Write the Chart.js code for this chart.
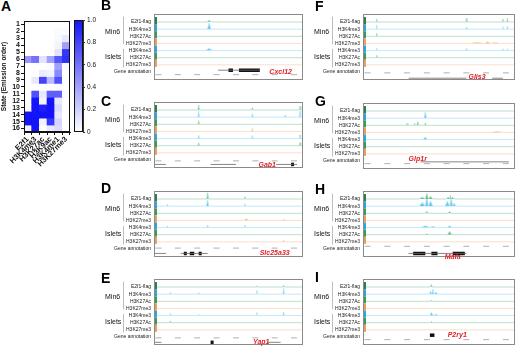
<!DOCTYPE html>
<html lang="en">
<head>
<meta charset="UTF-8">
<title>Chromatin states and E2f1 tracks</title>
<script src="https://cdn.jsdelivr.net/npm/chart.js@4.4.1/dist/chart.umd.min.js"></script>
<style>
  body { margin: 0; width: 520px; height: 351px; background: #fff; position: relative; overflow: hidden;
         font-family: "Liberation Sans", Arial, sans-serif; }
  canvas { position: absolute; }
  .letter { position: absolute; font-weight: bold; font-size: 14px; line-height: 14px; color: #000; }
</style>
</head>
<body>
<div class="letter" style="left:1px;top:-1px">A</div>
<canvas id="heat" width="72" height="175" style="left:0;top:0"></canvas>
<canvas id="cbar" width="30" height="175" style="left:72px;top:0"></canvas>

<script>
// ---- panel A data ----
var marks = ['E2f1', 'H3K4me3', 'H3K27ac', 'H3K9ac', 'H3K4me1', 'H3K27me3'];
var states = ['1','2','3','4','5','6','7','8','9','10','11','12','13','14','15','16'];
var emission = [
  [0, 0, 0, 0, 0, 0],
  [0, 0, 0, 0, 0.02, 0.02],
  [0, 0, 0, 0, 0.03, 0.1],
  [0, 0, 0, 0, 0.05, 0.4],
  [0, 0, 0, 0, 0.12, 0.85],
  [0.45, 0.6, 0.12, 0.4, 0.72, 0.88],
  [0, 0, 0, 0.02, 0.4, 0.02],
  [0, 0, 0.08, 0.05, 0.5, 0],
  [0, 0.1, 0.8, 0.3, 0.75, 0],
  [0, 0, 0, 0, 0.02, 0],
  [0, 0.75, 0.1, 0.68, 0.68, 0.02],
  [0, 1, 0.05, 1, 0.1, 0],
  [0, 1, 0.95, 1, 0.15, 0],
  [1, 1, 1, 1, 0.1, 0],
  [1, 1, 0.05, 0.85, 0.18, 0],
  [0.05, 1, 0, 0.1, 0.15, 0]
];
var scaleTicks = [0, 0.2, 0.4, 0.6, 0.8, 1];
var scaleLabels = ['0', '0.2', '0.4', '0.6', '0.8', '1.0'];

// ---- browser tracks ----
var trackLabels = ['E2f1-flag', 'H3K4me3', 'H3K27Ac', 'H3K27me3', 'H3K4me3', 'H3K27Ac', 'H3K27me3'];
var annotationLabel = 'Gene annotation';
var cellLines = ['Min6', 'Islets'];
var rulerMarks = [3, 16, 29, 42, 55, 68, 81, 94];

// peaks per track: [position %, height, half width %]
var cxcl12Peaks = [[[37, 0.25, 1.5]], [[37, 1.0, 1.2]], [], [], [[37, 0.35, 2.5]], [], []];
var cxcl12Exons = [[50, 53], [57, 71]];
var cxcl12Introns = [[43, 71]];

var gab1Peaks = [
  [[30, 0.8, 0.5], [66, 0.4, 0.5], [98, 0.6, 0.5]],
  [[30, 1.0, 0.5], [66, 0.6, 0.5], [88, 0.3, 0.5], [98, 1.0, 0.5]],
  [[30, 0.6, 0.5]],
  [[66, 0.5, 0.6]],
  [[30, 0.5, 0.6], [66, 0.5, 0.5], [98, 0.6, 0.5]],
  [[30, 0.5, 0.5], [98, 0.5, 0.5]],
  []
];
var gab1Exons = [[92, 94]];
var gab1Introns = [[0, 8], [38, 55], [82, 96]];

var slc25a33Peaks = [
  [[36, 1.0, 0.6], [61, 0.4, 0.5]],
  [[9, 0.3, 0.5], [36, 1.0, 0.8], [61, 0.4, 0.5]],
  [],
  [[62, 0.3, 1.5], [87, 0.2, 1]],
  [[9, 0.3, 0.5], [36, 0.4, 0.6], [61, 0.4, 0.5]],
  [],
  [[87, 0.3, 0.5]]
];
var slc25a33Exons = [[20, 22], [24, 27], [30, 32]];
var slc25a33Introns = [[0, 8], [18, 36]];

var yap1Peaks = [
  [[69, 0.2, 0.5], [87, 0.3, 0.5]],
  [[11, 0.3, 0.5], [30, 0.25, 0.5], [69, 0.6, 0.5], [87, 1.0, 0.5]],
  [],
  [],
  [[11, 0.35, 0.5], [30, 0.2, 0.5], [69, 0.5, 0.5], [87, 0.6, 0.5]],
  [[11, 0.3, 0.5]],
  []
];
var yap1Exons = [[38, 40]];
var yap1Introns = [[0, 5], [76, 85]];

var glis3Peaks = [
  [[9, 0.5, 0.4], [68, 0.6, 0.4], [92, 0.5, 0.4], [95, 0.6, 0.4]],
  [[9, 0.7, 0.4], [68, 0.3, 0.4], [92, 0.4, 0.4], [95, 0.5, 0.4]],
  [[9, 0.5, 0.4]],
  [[75, 0.15, 5], [82, 0.25, 2], [87, 0.15, 3]],
  [[9, 0.4, 0.4], [68, 0.3, 0.4], [92, 0.3, 0.4], [95, 0.3, 0.4]],
  [[9, 0.4, 0.4]],
  []
];
var glis3Exons = [];
var glis3Introns = [[30, 68], [85, 92]];

var glp1rPeaks = [
  [],
  [[41, 1.0, 0.8]],
  [[29, 0.3, 0.5], [34, 0.3, 0.5], [36, 0.6, 0.6], [41, 0.4, 0.5]],
  [[88, 0.15, 4]],
  [[41, 0.4, 1.5]],
  [],
  []
];
var glp1rExons = [];
var glp1rIntrons = [[38, 96]];

var mafaPeaks = [
  [[39, 0.3, 2], [42, 0.9, 1], [44.5, 0.4, 1.5], [56, 0.3, 1], [57.5, 0.6, 0.5], [59, 0.3, 1]],
  [[39, 0.6, 2], [42, 1.6, 1], [44.5, 0.8, 1.5], [55.5, 0.8, 1.5], [58, 1.3, 1], [60, 0.5, 1]],
  [[42, 0.3, 1], [57, 0.3, 1]],
  [],
  [[41, 0.3, 3], [46, 0.2, 2], [57, 0.3, 1.5]],
  [[42, 0.15, 1], [57, 0.5, 1.5]],
  []
];
var mafaExons = [[33, 41], [45, 49], [59, 67]];
var mafaIntrons = [[30, 68]];

var p2ry1Peaks = [
  [[45, 0.4, 0.6]],
  [[44.5, 0.5, 0.8], [46, 0.8, 0.7], [48, 0.3, 1.3]],
  [[45, 0.2, 0.5]],
  [],
  [[45, 0.5, 1.2], [48, 0.2, 1.8]],
  [[45, 0.2, 0.6]],
  []
];
var p2ry1Exons = [[44, 47]];
var p2ry1Introns = [];

// layout of the eight browser panels
var panelLayout = [
  {letter: 'B', gene: 'Cxcl12',   peaks: cxcl12Peaks,   exons: cxcl12Exons,   introns: cxcl12Introns,   col: 0, top: 10,  lt: -2,  nameX: 85, nameY: 65, model: 63, ruler: 68},
  {letter: 'C', gene: 'Gab1',     peaks: gab1Peaks,     exons: gab1Exons,     introns: gab1Introns,     col: 0, top: 98,  lt: 94,  nameX: 76, nameY: 71, model: 70, ruler: 66},
  {letter: 'D', gene: 'Slc25a33', peaks: slc25a33Peaks, exons: slc25a33Exons, introns: slc25a33Introns, col: 0, top: 187, lt: 181, nameX: 81, nameY: 70, model: 70, ruler: 64},
  {letter: 'E', gene: 'Yap1',     peaks: yap1Peaks,     exons: yap1Exons,     introns: yap1Introns,     col: 0, top: 275, lt: 271, nameX: 72, nameY: 71, model: 71, ruler: 66},
  {letter: 'F', gene: 'Glis3',    peaks: glis3Peaks,    exons: glis3Exons,    introns: glis3Introns,    col: 1, top: 10,  lt: -1,  nameX: 75, nameY: 71, model: 72, ruler: 66},
  {letter: 'G', gene: 'Glp1r',    peaks: glp1rPeaks,    exons: glp1rExons,    introns: glp1rIntrons,    col: 1, top: 99,  lt: 94,  nameX: 36, nameY: 63, model: 66, ruler: 68},
  {letter: 'H', gene: 'Mafa',     peaks: mafaPeaks,     exons: mafaExons,     introns: mafaIntrons,     col: 1, top: 187, lt: 182, nameX: 59, nameY: 74, model: 70, ruler: 62},
  {letter: 'I', gene: 'P2ry1',    peaks: p2ry1Peaks,    exons: p2ry1Exons,    introns: p2ry1Introns,    col: 1, top: 275, lt: 270, nameX: 62, nameY: 63, model: 63, ruler: 68}
];

Chart.defaults.font.family = '"Liberation Sans", Arial, sans-serif';
Chart.defaults.animation = false;
Chart.defaults.color = '#111';

var BOX_H = 74;
var trackOffsets = [9, 17, 25, 33, 41, 49, 57];
var annotOffset = 65;
var peakScale = 7;
var lineCols = ['#a9d9bc', '#b3e4f7', '#a9d9bc', '#f8d8bb', '#b3e4f7', '#a9d9bc', '#f8d8bb'];
var fillCols = ['rgba(70,165,110,0.75)', 'rgba(60,190,240,0.8)', 'rgba(70,165,110,0.75)', 'rgba(235,150,80,0.7)',
                'rgba(60,190,240,0.8)', 'rgba(70,165,110,0.75)', 'rgba(235,150,80,0.7)'];
var stripCols = ['#2e7d4f', '#29a8e0', '#3a9a5a', '#e8a060', '#29a8e0', '#3a9a5a', '#e8a060'];

function heatColor(v) {
  var r = Math.round(255 - v * 235), g = Math.round(255 - v * 235), b = Math.round(255 - v * 5);
  return 'rgb(' + r + ',' + g + ',' + b + ')';
}

var frame = {
  id: 'frame',
  afterDraw: function (chart) {
    var a = chart.chartArea, c = chart.ctx;
    c.save();
    c.strokeStyle = '#111';
    c.lineWidth = 1;
    c.strokeRect(Math.round(a.left) + 0.5, Math.round(a.top) + 0.5, Math.round(a.width) - 1, Math.round(a.height) - 1);
    c.restore();
  }
};

// heatmap: one floating-bar dataset per state row
var heatSets = states.map(function (s, i) {
  return {
    data: marks.map(function () { return [i + 0.5, i + 1.5]; }),
    backgroundColor: emission[i].map(heatColor),
    borderWidth: 0,
    grouped: false,
    barPercentage: 1,
    categoryPercentage: 1
  };
});

new Chart(document.getElementById('heat'), {
  type: 'bar',
  data: { labels: marks, datasets: heatSets },
  options: {
    responsive: false,
    layout: { padding: { top: 21, right: 2, left: 0, bottom: 0 } },
    plugins: { legend: { display: false }, tooltip: { enabled: false } },
    scales: {
      x: {
        grid: { drawOnChartArea: false, tickLength: 3, color: '#111' },
        border: { color: '#111' },
        ticks: { minRotation: 45, maxRotation: 45, padding: 0, font: { size: 7.5, weight: 'bold' }, autoSkip: false },
        afterFit: function (s) { s.height = 43; s.paddingLeft = 0; s.paddingRight = 0; }
      },
      y: {
        min: 0.5, max: 16.5, reverse: true,
        grid: { drawOnChartArea: false, tickLength: 3, color: '#111' },
        border: { color: '#111' },
        afterBuildTicks: function (s) { s.ticks = states.map(function (t, i) { return { value: i + 1 }; }); },
        ticks: { autoSkip: false, padding: 1, font: { size: 7, weight: 'bold' },
                 callback: function (v) { return states[v - 1]; } },
        title: { display: true, text: 'State (Emission order)', font: { size: 6.5, weight: 'bold' }, padding: 0 },
        afterFit: function (s) { s.width = 24; s.paddingTop = 0; s.paddingBottom = 0; }
      }
    }
  },
  plugins: [frame]
});

// colour scale
new Chart(document.getElementById('cbar'), {
  type: 'bar',
  data: {
    labels: [''],
    datasets: [{
      data: [[0, 1]],
      backgroundColor: function (ctx) {
        var a = ctx.chart.chartArea;
        if (!a) return heatColor(0.5);
        var g = ctx.chart.ctx.createLinearGradient(0, a.bottom, 0, a.top);
        g.addColorStop(0, heatColor(0));
        g.addColorStop(1, heatColor(1));
        return g;
      },
      borderWidth: 0,
      barPercentage: 1,
      categoryPercentage: 1
    }]
  },
  options: {
    responsive: false,
    layout: { padding: { top: 20, left: 2, right: 0, bottom: 43 } },
    plugins: { legend: { display: false }, tooltip: { enabled: false } },
    scales: {
      x: { display: false },
      y: {
        position: 'right', min: 0, max: 1,
        grid: { drawOnChartArea: false, tickLength: 2, color: '#333' },
        border: { color: '#333' },
        afterBuildTicks: function (s) { s.ticks = scaleTicks.map(function (v) { return { value: v }; }); },
        ticks: { padding: 2, font: { size: 6.5 },
                 callback: function (v) { return scaleLabels[scaleTicks.indexOf(v)]; } },
        afterFit: function (s) { s.width = 19; s.paddingTop = 0; s.paddingBottom = 0; }
      }
    }
  },
  plugins: [frame]
});

// ---- browser panels ----
function trackData(base, peaks) {
  var pts = [{ x: 0, y: base }];
  peaks.forEach(function (p) {
    pts.push({ x: p[0] - p[2], y: base }, { x: p[0], y: base + p[1] * peakScale }, { x: p[0] + p[2], y: base });
  });
  pts.push({ x: 100, y: base });
  return pts;
}

function segData(segs, yv) {
  var pts = [];
  segs.forEach(function (s) {
    pts.push({ x: s[0], y: yv }, { x: s[1], y: yv }, { x: s[1] + 0.01, y: null });
  });
  return pts;
}

var panelDecor = {
  id: 'panelDecor',
  afterDraw: function (chart, args, o) {
    var c = chart.ctx, a = chart.chartArea, ys = chart.scales.y, xs = chart.scales.x;
    var py = function (off) { return ys.getPixelForValue(BOX_H - off); };
    c.save();
    // left axis strips of each track
    trackOffsets.forEach(function (off, i) {
      c.fillStyle = stripCols[i];
      c.fillRect(a.left + 1, py(off) - 5, 2, 7);
    });
    // frame
    c.strokeStyle = '#8a8a8a';
    c.lineWidth = 1;
    c.strokeRect(Math.round(a.left) + 0.5, Math.round(a.top) + 0.5, Math.round(a.width) - 1, Math.round(a.height) - 1);
    // cell line groups
    c.fillStyle = '#111';
    c.font = '7px "Liberation Sans"';
    c.textAlign = 'left';
    c.textBaseline = 'middle';
    c.fillText(cellLines[0], a.left - 49, py(20));
    c.fillText(cellLines[1], a.left - 49, py(48));
    c.strokeStyle = '#bdbdbd';
    c.beginPath();
    c.moveTo(a.left - 30.5, py(3)); c.lineTo(a.left - 30.5, py(34));
    c.moveTo(a.left - 30.5, py(39)); c.lineTo(a.left - 30.5, py(60));
    c.stroke();
    // gene name
    c.fillStyle = '#e3202a';
    c.font = 'italic bold 7px "Liberation Sans"';
    c.textAlign = 'center';
    c.fillText(o.gene, xs.getPixelForValue(o.nameX), py(o.nameY));
    c.restore();
  }
};

panelLayout.forEach(function (p) {
  var left = p.col === 0 ? 98 : 308;
  var width = p.col === 0 ? 210 : 212;
  var cv = document.createElement('canvas');
  cv.width = width;
  cv.height = BOX_H + 2;
  cv.style.left = left + 'px';
  cv.style.top = (p.top - 1) + 'px';
  document.body.appendChild(cv);

  var lt = document.createElement('div');
  lt.className = 'letter';
  lt.textContent = p.letter;
  lt.style.left = (p.col === 0 ? 101 : 315) + 'px';
  lt.style.top = p.lt + 'px';
  document.body.appendChild(lt);

  var sets = trackOffsets.map(function (off, i) {
    var base = BOX_H - off;
    return {
      data: trackData(base, p.peaks[i]),
      borderColor: lineCols[i],
      backgroundColor: fillCols[i],
      borderWidth: 0.8,
      fill: { value: base },
      pointRadius: 0,
      tension: 0
    };
  });
  sets.push({
    data: segData(p.introns, BOX_H - p.model),
    borderColor: '#666', borderWidth: 0.8, pointRadius: 0, fill: false, spanGaps: false
  });
  sets.push({
    data: segData(p.exons, BOX_H - p.model),
    borderColor: '#111', borderWidth: 3.5, borderCapStyle: 'butt', pointRadius: 0, fill: false, spanGaps: false
  });
  sets.push({
    data: rulerMarks.map(function (m) { return { x: m, y: BOX_H - p.ruler }; }),
    showLine: false, pointStyle: 'line', pointRadius: 3, pointBorderColor: '#b0b0b0', pointBorderWidth: 1
  });

  var tickVals = trackOffsets.concat([annotOffset]).map(function (o) { return BOX_H - o; });
  var tickText = trackLabels.concat([annotationLabel]);

  new Chart(cv, {
    type: 'line',
    data: { datasets: sets },
    options: {
      responsive: false,
      layout: { padding: { top: 1, bottom: 1, left: 0, right: p.col === 0 ? 3 : 2 } },
      plugins: {
        legend: { display: false }, tooltip: { enabled: false },
        panelDecor: { gene: p.gene, nameX: p.nameX, nameY: p.nameY }
      },
      scales: {
        x: { type: 'linear', min: 0, max: 100, display: false },
        y: {
          min: 0, max: BOX_H,
          grid: { display: false, drawTicks: false },
          border: { display: false },
          afterBuildTicks: function (s) { s.ticks = tickVals.map(function (v) { return { value: v }; }); },
          ticks: { autoSkip: false, padding: 3, font: { size: 5 }, color: '#222',
                   callback: function (v) { return tickText[tickVals.indexOf(v)]; } },
          afterFit: function (s) { s.width = p.col === 0 ? 56 : 55; s.paddingTop = 0; s.paddingBottom = 0; }
        }
      }
    },
    plugins: [panelDecor]
  });
});
</script>
</body>
</html>
